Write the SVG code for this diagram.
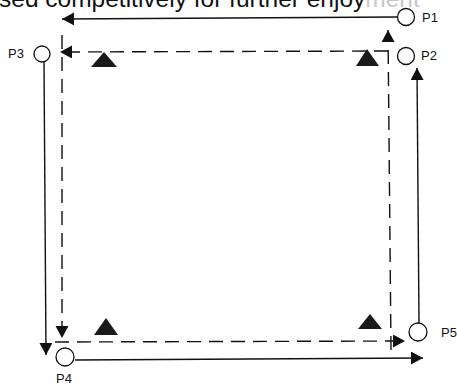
<svg xmlns="http://www.w3.org/2000/svg" width="457" height="387" viewBox="0 0 457 387">
<style>
.lbl{font-family:"Liberation Sans",Arial,sans-serif;font-size:13px;fill:#111}
.hdr{font-family:"Liberation Sans",Arial,sans-serif;font-size:24.5px;fill:#111}
.node{fill:#fff;stroke:#111;stroke-width:1.3}
.solid{stroke:#111;stroke-width:1.4;fill:none}
.dash{stroke:#111;stroke-width:1.4;fill:none;stroke-dasharray:14 8}
.tri{fill:#1a1a1a}
</style>
<defs>
<marker id="ah" markerUnits="userSpaceOnUse" markerWidth="13" markerHeight="14" refX="12" refY="6.5" orient="auto">
<path d="M0,0 L12,6.5 L0,13 Z" fill="#111"/>
</marker>
</defs>
<rect width="457" height="387" fill="#fff"/>
<text class="hdr" x="-1" y="7">sed competitively for further enjoy<tspan fill="#c8c8c8">ment</tspan></text>
<g id="connectors">
<line class="solid" x1="397" y1="17" x2="62" y2="19" marker-end="url(#ah)"/>
<line class="dash" x1="388" y1="51" x2="60" y2="52" marker-end="url(#ah)"/>
<line class="dash" x1="62" y1="35" x2="62" y2="338" marker-end="url(#ah)"/>
<line class="solid" x1="44" y1="62" x2="46" y2="355" marker-end="url(#ah)"/>
<line class="dash" x1="55" y1="342" x2="405" y2="341" marker-end="url(#ah)"/>
<line class="dash" x1="391" y1="350" x2="388" y2="30" marker-end="url(#ah)"/>
<line class="solid" x1="75" y1="360" x2="423" y2="358" marker-end="url(#ah)"/>
<line class="solid" x1="419" y1="323" x2="417" y2="68" marker-end="url(#ah)"/>
</g>
<g id="P1"><circle class="node" cx="406" cy="17" r="8.5"/><text class="lbl" x="422" y="22">P1</text></g>
<g id="P2"><circle class="node" cx="406" cy="56" r="8.5"/><text class="lbl" x="421" y="60">P2</text></g>
<g id="P3"><circle class="node" cx="42" cy="54" r="8"/><text class="lbl" x="8" y="58">P3</text></g>
<g id="P4"><circle class="node" cx="65" cy="357" r="9"/><text class="lbl" x="56" y="383">P4</text></g>
<g id="P5"><circle class="node" cx="418" cy="332" r="9"/><text class="lbl" x="441" y="337">P5</text></g>
<g id="T1"><polygon class="tri" points="104,52 117,67 91,67"/></g>
<g id="T2"><polygon class="tri" points="367,49 379,66 356,66"/></g>
<g id="T3"><polygon class="tri" points="106,318 118,335 94,335"/></g>
<g id="T4"><polygon class="tri" points="370,314 382,329 358,329"/></g>
</svg>
